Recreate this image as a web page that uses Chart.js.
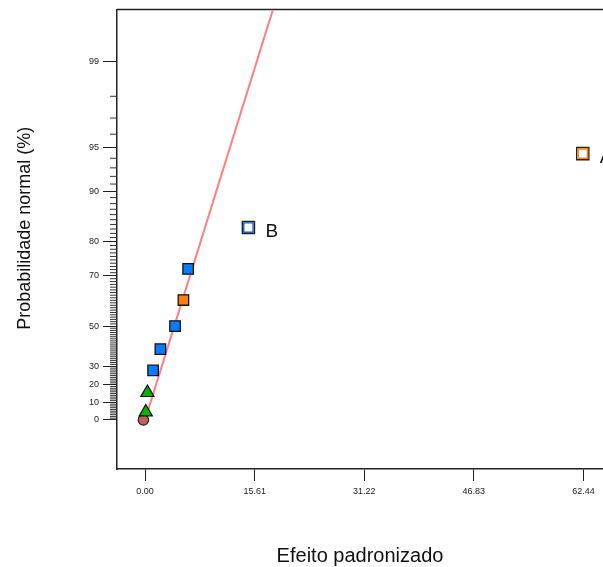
<!DOCTYPE html>
<html>
<head>
<meta charset="utf-8">
<script src="https://cdn.jsdelivr.net/npm/chart.js@4"></script>
<style>
  html, body { margin: 0; padding: 0; background: #fff; overflow: hidden; }
  #wrap { width: 603px; height: 567px; }
</style>
</head>
<body>
<div id="wrap"><canvas id="chart"></canvas></div>
<script>
// efeitos (x = efeito padronizado, p = probabilidade normal %)
const circleX = [-0.24]
const circleP = [0]
const triX = [0.1, 0.33]
const triP = [4.5, 15.5]
const blueX = [1.14, 2.18, 4.27, 6.13]
const blueP = [27.78, 38.89, 50, 72.22]
const orangeX = [5.46]
const orangeP = [61.11]
const bX = [14.72]
const bP = [83.33]
const aX = [62.35]
const aP = [94.44]
// reta
const fitX = [0, 18.2]
const fitP = [0, 99.68]

const xTicks = [0, 15.61, 31.22, 46.83, 62.44]
const yMajor = [0, 10, 20, 30, 50, 70, 80, 90, 95, 99]

const FONT = '"Liberation Sans", Arial, sans-serif'

// normal inversa (Acklam)
function probit(p) {
    const a = [-3.969683028665376e+01, 2.209460984245205e+02, -2.759285104469687e+02, 1.383577518672690e+02, -3.066479806614716e+01, 2.506628277459239e+00]
    const b = [-5.447609879822406e+01, 1.615858368580409e+02, -1.556989798598866e+02, 6.680131188771972e+01, -1.328068155288572e+01]
    const c = [-7.784894002430293e-03, -3.223964580411365e-01, -2.400758277161838e+00, -2.549732539343734e+00, 4.374664141464968e+00, 2.938163982698783e+00]
    const d = [7.784695709041462e-03, 3.224671290700398e-01, 2.445134137142996e+00, 3.754408661907416e+00]
    const pl = 0.02425
    let q, r
    if (p < pl) {
        q = Math.sqrt(-2 * Math.log(p))
        return (((((c[0] * q + c[1]) * q + c[2]) * q + c[3]) * q + c[4]) * q + c[5]) / ((((d[0] * q + d[1]) * q + d[2]) * q + d[3]) * q + 1)
    }
    if (p <= 1 - pl) {
        q = p - 0.5
        r = q * q
        return (((((a[0] * r + a[1]) * r + a[2]) * r + a[3]) * r + a[4]) * r + a[5]) * q / (((((b[0] * r + b[1]) * r + b[2]) * r + b[3]) * r + b[4]) * r + 1)
    }
    q = Math.sqrt(-2 * Math.log(1 - p))
    return -(((((c[0] * q + c[1]) * q + c[2]) * q + c[3]) * q + c[4]) * q + c[5]) / ((((d[0] * q + d[1]) * q + d[2]) * q + d[3]) * q + 1)
}
// escala meio-normal
const halfZ = (p) => probit(0.5 + p / 200)
const pts = (xs, ps) => xs.map((x, i) => ({ x: x, y: halfZ(ps[i]) }))

const extras = {
    id: 'extras',
    beforeDatasetsDraw(chart) {
        const { ctx, chartArea, scales: { y } } = chart
        ctx.save()
        // linha de cima
        ctx.strokeStyle = '#222'
        ctx.lineWidth = 1.5
        ctx.beginPath()
        ctx.moveTo(chartArea.left, chartArea.top)
        ctx.lineTo(chartArea.right + 2, chartArea.top)
        ctx.stroke()
        // ticks menores a cada 1%
        ctx.lineWidth = 1
        ctx.strokeStyle = '#333'
        for (let p = 1; p < 99; p++) {
            if (yMajor.includes(p)) continue
            const py = y.getPixelForValue(halfZ(p))
            ctx.beginPath()
            ctx.moveTo(chartArea.left - 7, py)
            ctx.lineTo(chartArea.left, py)
            ctx.stroke()
        }
        // titulo do eixo y
        ctx.translate(chartArea.left - 92, (chartArea.top + chartArea.bottom) / 2 - 11)
        ctx.rotate(-Math.PI / 2)
        ctx.font = '18px ' + FONT
        ctx.fillStyle = '#111'
        ctx.textAlign = 'center'
        ctx.textBaseline = 'middle'
        ctx.fillText('Probabilidade normal (%)', 0, 0)
        ctx.restore()
    },
    afterDatasetsDraw(chart) {
        const { ctx, scales: { x, y } } = chart
        ctx.save()
        ctx.font = '19px ' + FONT
        ctx.fillStyle = '#111'
        ctx.textAlign = 'left'
        ctx.textBaseline = 'middle'
        ctx.fillText('A', x.getPixelForValue(aX[0]) + 17, y.getPixelForValue(halfZ(aP[0])) + 4)
        ctx.fillText('B', x.getPixelForValue(bX[0]) + 17, y.getPixelForValue(halfZ(bP[0])) + 4)
        ctx.restore()
    }
}

new Chart(document.getElementById('chart'), {
    type: 'scatter',
    data: {
        datasets: [
            { data: pts(aX, aP), pointStyle: 'rect', pointRadius: 6.6, backgroundColor: 'rgba(0,0,0,0)', borderColor: '#ff8000', borderWidth: 1.4 },
            { data: pts(aX, aP), pointStyle: 'rect', pointRadius: 8.6, backgroundColor: '#fff', borderColor: '#222', borderWidth: 1.4 },
            { data: pts(bX, bP), pointStyle: 'rect', pointRadius: 6.6, backgroundColor: 'rgba(0,0,0,0)', borderColor: '#1060c0', borderWidth: 1.4 },
            { data: pts(bX, bP), pointStyle: 'rect', pointRadius: 8.6, backgroundColor: '#fff', borderColor: '#222', borderWidth: 1.4 },
            { data: pts(blueX, blueP), pointStyle: 'rect', pointRadius: 7.4, backgroundColor: '#0a7cff', borderColor: '#111', borderWidth: 1.3 },
            { data: pts(orangeX, orangeP), pointStyle: 'rect', pointRadius: 7.4, backgroundColor: '#ff8000', borderColor: '#111', borderWidth: 1.3 },
            { data: pts(triX, triP), pointStyle: 'triangle', pointRadius: 7.6, backgroundColor: '#00b400', borderColor: '#111', borderWidth: 1.2 },
            { data: pts(circleX, circleP), pointStyle: 'circle', pointRadius: 5.2, backgroundColor: '#c0605c', borderColor: '#222', borderWidth: 1.2 },
            { data: pts(fitX, fitP), showLine: true, pointRadius: 0, borderColor: '#ff8080', borderWidth: 2, order: 10 }
        ]
    },
    options: {
        responsive: true,
        maintainAspectRatio: false,
        animation: false,
        layout: { autoPadding: false, padding: { top: 8, left: 0, right: 0, bottom: 0 } },
        plugins: {
            legend: { display: false },
            tooltip: { enabled: false }
        },
        scales: {
            x: {
                type: 'linear',
                min: -4,
                max: 65.23,
                afterBuildTicks: (s) => { s.ticks = xTicks.map(v => ({ value: v })) },
                afterFit: (s) => { s.height = 98 },
                grid: { drawOnChartArea: false, tickLength: 12, color: '#222', lineWidth: 1 },
                border: { display: true, color: '#222', width: 1.5 },
                ticks: {
                    padding: 5,
                    color: '#222',
                    font: { family: FONT, size: 9 },
                    callback: (v) => Number(v).toFixed(2)
                },
                title: {
                    display: true,
                    text: 'Efeito padronizado',
                    color: '#111',
                    font: { family: FONT, size: 20, lineHeight: 1 },
                    padding: { top: 0, bottom: 1 }
                }
            },
            y: {
                type: 'linear',
                min: -0.353,
                max: 2.951,
                afterBuildTicks: (s) => { s.ticks = yMajor.map(p => ({ value: halfZ(p) })) },
                afterFit: (s) => { s.width = 117 },
                grid: { drawOnChartArea: false, tickLength: 14, color: '#222', lineWidth: 1 },
                border: { display: true, color: '#222', width: 1.5 },
                ticks: {
                    padding: 4,
                    color: '#222',
                    font: { family: FONT, size: 9 },
                    callback: (v, i) => String(yMajor[i])
                }
            }
        }
    },
    plugins: [extras]
})
</script>
</body>
</html>
